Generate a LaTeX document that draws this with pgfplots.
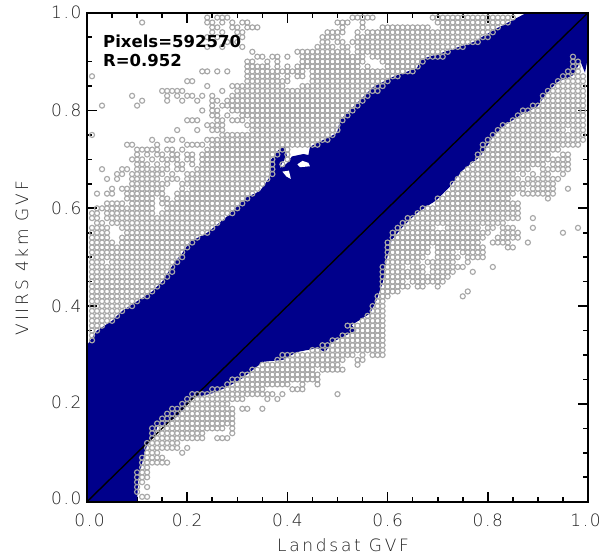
\documentclass[border=0pt]{standalone}
\usepackage{pgfplots}
\pgfplotsset{compat=1.18}
\usepackage{fontspec}
\setmainfont[LetterSpace=10]{DejaVu Sans ExtraLight}
\newfontfamily\labf[LetterSpace=16]{DejaVu Sans ExtraLight}
\newfontfamily\boldf[LetterSpace=0]{DejaVu Sans Bold}
\definecolor{bl}{RGB}{0,0,139}
\definecolor{gc}{RGB}{168,168,168}
\definecolor{lab}{RGB}{30,30,30}
\pgfplotsset{gm/.style={only marks,mark=o,mark size=2.55pt,color=gc,mark options={line width=1.15pt},forget plot}}
\newcommand\Row[2]{\gdef\pts{}\foreach \x in {#2}{\xdef\pts{\pts (0.\x,#1)}}\edef\tmp{\noexpand\addplot[gm] coordinates {\pts};}\tmp}
\begin{document}
\begin{tikzpicture}
\useasboundingbox (-87pt,-55.3pt) rectangle (518pt,501.7pt);
\begin{axis}[at={(0pt,0pt)},anchor=south west,scale only axis,width=501pt,height=489pt,
xmin=0,xmax=1,ymin=0,ymax=1,
xtick={0,0.2,0.4,0.6,0.8,1},ytick={0,0.2,0.4,0.6,0.8,1},
xticklabels={\hspace*{5pt}0.0,0.2,0.4,0.6,0.8,1.0\hspace*{5pt}},
yticklabels={\raisebox{7pt}{0.0},\raisebox{3pt}{0.2},0.4,0.6,0.8,\raisebox{-5pt}{1.0}},
minor tick num=3,tick align=inside,major tick length=10pt,minor tick length=5pt,
tick style={line width=1.6pt,black},
every tick label/.append style={font=\fontsize{17}{19}\selectfont,text=lab},
xticklabel style={yshift=-9pt},
yticklabel style={xshift=-2pt},
/pgf/number format/assume math mode=true,
axis line style={line width=2pt},
xlabel={Landsat GVF},ylabel={VIIRS 4km GVF},
every axis x label/.style={at={(axis description cs:0.511,-0.0885)},anchor=center,font=\labf\fontsize{17}{19}\selectfont,text=lab},
every axis y label/.style={at={(axis description cs:-0.13,0.498)},anchor=center,rotate=90,font=\labf\fontsize{17}{19}\selectfont,text=lab},
]
% upper cloud
\Row{0.99}{24,26,27,28,53,54,55,56,57,69,70,71,72,73,74,75,76,77,78,79,80,81,82,83,84,85}
\Row{0.98}{11,24,25,27,29,31,32,50,51,52,55,70,71,72,73,74,75,76,77,78,79,80,81,82,83,84}
\Row{0.97}{25,26,29,30,32,33,34,51,55,59,60,61,62,63,64,65,66,67,68,71,72,73,74,75,76,77,78,79,80,81,82}
\Row{0.96}{25,27,30,31,48,49,50,51,54,56,57,58,59,60,61,62,63,64,65,66,67,68,69,70,71,72,73,74,75,76,77,78,79,80,81}
\Row{0.95}{24,26,31,47,48,49,50,54,55,56,57,58,59,60,61,62,63,64,65,66,67,68,69,70,71,72,73,74,75,76,77,78,79,80}
\Row{0.94}{28,30,47,48,50,51,53,54,55,56,57,58,59,60,61,62,63,64,65,66,67,68,69,70,71,72,73,74,75,76,77,78}
\Row{0.93}{24,27,31,46,47,48,49,51,52,54,55,56,57,58,59,60,61,62,63,64,65,66,67,68,69,70,71,72,73,74,75}
\Row{0.92}{33,42,43,44,45,46,47,48,49,50,51,52,54,55,56,57,58,59,60,61,62,63,64,65,66,67,68,69,70,71,72}
\Row{0.91}{34,35,37,38,40,43,44,45,46,47,48,49,50,51,52,53,54,55,57,58,59,60,61,62,63,64,65,66,67,68,69,70,71}
\Row{0.90}{32,33,36,38,43,44,45,46,47,48,49,50,51,52,53,54,55,59,60,61,62,63,64,65,66,67}
\Row{0.89}{32,33,34,35,36,38,40,42,43,44,45,46,47,48,49,50,51,52,53,54,56,60,61,62,63,64,65,66}
\Row{0.88}{23,24,26,28,32,33,34,35,36,37,38,39,40,41,42,43,45,46,47,48,49,50,51,52,53,54,55,56,57,58,59,60,61,62,63,64,65}
\Row{0.87}{01,32,33,34,35,36,37,38,40,42,43,45,46,47,48,49,50,51,52,53,54,55,56,57,58,59,60,61,62}
\Row{0.86}{20,21,32,33,34,35,36,37,38,39,40,45,46,47,48,49,50,51,52,53,54,55,56,57,58,59,60}
\Row{0.85}{24,29,30,31,32,33,34,35,36,37,38,39,43,44,45,46,47,48,49,50,51,52,53,54,55,56,57,58,59}
\Row{0.84}{15,16,17,18,19,27,30,31,32,33,34,35,36,37,38,39,40,41,42,43,44,45,46,47,48,49,50,51,52,53,54,55,56,57,58}
\Row{0.83}{09,16,18,20,21,23,25,29,30,31,32,33,34,35,36,37,38,39,40,41,42,43,44,45,46,47,48,49,50,51,52,53,54,55,56}
\Row{0.82}{11,16,19,22,25,26,28,29,30,31,32,33,34,35,36,37,38,39,40,41,42,43,44,45,46,47,48,49,50,51,52,53,54,55}
\Row{0.81}{03,10,25,27,28,29,30,31,32,33,34,35,36,37,38,39,40,41,42,43,44,45,46,47,48,49,50,51,52,53,54}
\Row{0.80}{23,25,26,29,30,31,32,33,34,35,36,37,38,39,40,41,42,43,44,45,46,47,48,49,50,51,52,53}
\Row{0.79}{25,26,28,31,32,33,34,35,36,37,38,39,40,41,42,43,44,45,46,47,48,49,50,51,52}
\Row{0.78}{20,21,22,26,27,29,30,31,33,34,35,36,37,38,39,40,41,42,43,44,45,46,47,48,49,50,51}
\Row{0.77}{24,25,26,27,32,33,34,35,36,37,38,39,40,41,42,43,44,45,46,47,48,49,50}
\Row{0.76}{18,22,25,26,27,33,34,35,36,37,38,39,40,41,42,43,44,45,46,47,48,49,50}
\Row{0.75}{01,27,28,29,30,31,32,33,34,35,36,37,38,39,40,41,42,43,44,45,46,47,48,49}
\Row{0.74}{13,16,17,19,24,25,26,27,28,29,30,31,32,33,34,35,36,37,38,39,40,41,42,43,44,45,46,47,48}
\Row{0.73}{08,09,14,20,21,22,23,25,26,27,28,29,30,31,32,33,34,35,36,37,38,39,40,41,42,43,44,45,46}
\Row{0.72}{10,11,12,13,14,16,17,19,24,25,26,27,28,29,30,31,32,33,34,35,36,37,38,39,40}
\Row{0.71}{10,12,14,15,17,18,20,21,23,24,25,26,27,28,29,30,31,32,33,34,35,36,37,38,40}
\Row{0.70}{09,10,11,13,15,16,17,18,20,21,23,24,25,26,27,28,29,30,31,32,33,34,35,36,37,40}
\Row{0.69}{10,11,12,14,16,18,19,21,23,24,25,26,27,28,29,30,31,32,33,34,35,36,37,39}
\Row{0.68}{03,07,08,10,11,12,13,14,15,16,18,19,22,23,24,25,26,27,28,29,30,31,32,33,34,35,36,37}
\Row{0.67}{06,07,09,10,11,12,13,14,15,17,20,21,22,23,24,25,26,27,28,29,30,31,32,33,34,35,36,37}
\Row{0.66}{04,06,09,10,11,12,13,14,16,17,18,20,21,22,23,24,25,26,27,28,29,30,31,32,33,34,35,36}
\Row{0.65}{09,10,11,12,13,14,15,16,19,20,21,22,23,24,25,26,27,28,29,30,31,32,33,34,35}
\Row{0.64}{05,07,08,09,10,11,12,13,14,15,19,21,22,23,24,25,26,27,28,29,30,31,32,33,34}
\Row{0.63}{02,04,05,08,09,10,11,12,13,14,15,18,19,20,21,22,23,24,25,26,27,28,29,30,31,32,33}
\Row{0.62}{08,09,10,11,12,13,15,16,18,19,20,21,22,23,24,25,26,27,28,29,30,31,32}
\Row{0.61}{04,05,06,07,09,10,11,12,13,15,16,17,18,19,20,21,22,23,24,25,26,27,28,29,30,31}
\Row{0.60}{02,03,04,05,06,07,08,09,10,11,12,13,16,17,18,19,20,21,22,23,24,25,26,27,28,29,30}
\Row{0.59}{01,02,04,05,06,07,08,09,10,11,12,13,15,16,17,18,19,20,21,22,23,24,25,26,27,28,29}
\Row{0.58}{01,02,04,05,06,07,08,09,10,11,12,13,14,15,16,17,18,19,20,21,22,23,24,25,26,27}
\Row{0.57}{02,03,05,06,07,08,09,10,11,12,13,14,15,16,17,18,19,20,21,22,23,24,25,26}
\Row{0.56}{01,02,03,04,07,08,09,10,11,12,13,14,15,16,17,18,19,20,21,22,23,24,25}
\Row{0.55}{01,02,03,04,08,09,10,11,12,13,14,15,16,17,18,19,20,21,22,23,24}
\Row{0.54}{01,02,03,04,07,08,09,10,11,12,13,14,15,16,17,18,19,20,21,22}
\Row{0.53}{01,02,03,04,05,07,08,09,10,11,12,13,14,15,16,17,18,19,20,21}
\Row{0.52}{01,02,03,04,05,06,07,08,09,10,11,12,13,14,15,16,17,18,19,20}
\Row{0.51}{01,02,03,04,05,06,07,08,09,10,11,12,13,14,15,16,17,18,19}
\Row{0.50}{01,02,03,04,05,06,07,08,09,10,11,12,13,14,15,16,17,18,19}
\Row{0.49}{01,02,03,05,06,07,08,09,10,11,12,13,14,15,16,17,18}
\Row{0.48}{01,02,03,04,05,06,07,08,09,10,11,12,13,14,15,16,17}
\Row{0.47}{01,02,03,04,05,06,07,08,09,10,11,12,13,14,15,16,17}
\Row{0.46}{01,02,03,04,05,06,07,08,09,10,11,12,13,14,15,16}
\Row{0.45}{01,02,03,04,05,06,07,08,09,10,11,12,13,14,15}
\Row{0.44}{01,02,03,04,05,06,07,08,09,10,11,12,13,14}
\Row{0.43}{01,02,03,04,05,06,07,08,09,10,11,12,13}
\Row{0.42}{01,02,03,04,05,06,07,08,09,10,11,12}
\Row{0.41}{01,02,03,04,05,06,07,08,09,10}
\Row{0.40}{01,02,03,04,05,06,07,08,09}
\Row{0.39}{01,02,03,04,05,06,07}
\Row{0.38}{01,02,03,04,05,06}
\Row{0.37}{01,02,03,04,05}
\Row{0.36}{01,02,03}
\Row{0.35}{01,02}
\Row{0.34}{01}
\Row{0.33}{01}
% lower cloud
\Row{0.01}{11,12}
\Row{0.02}{10}
\Row{0.03}{10,12}
\Row{0.04}{10,11}
\Row{0.05}{10,11,12}
\Row{0.06}{10,11,12}
\Row{0.07}{11,12}
\Row{0.08}{11,12,13,14,15,16}
\Row{0.09}{11,12,13,14,15}
\Row{0.10}{12,13,14,19}
\Row{0.11}{12,13,14,15,16,17,18,20}
\Row{0.12}{12,13,14,15,16,17,18}
\Row{0.13}{13,14,15,16,17,18,19,20,21,22,23,26,27,28}
\Row{0.14}{13,14,15,16,17,18,19,20,21,22,23,29}
\Row{0.15}{13,14,15,16,17,18,19,20,21,22,23,24,25,26,27,29}
\Row{0.16}{14,15,16,17,18,19,20,21,22,23,24,25,26,27,28,29}
\Row{0.17}{15,16,17,18,19,20,21,22,23,24,25,26,27,28,29}
\Row{0.18}{16,17,18,19,20,21,22,23,24,25,26,27,28,29}
\Row{0.19}{17,18,19,20,21,22,23,24,25,26,27,28,29,31,32,35}
\Row{0.20}{19,20,21,22,23,24,25,26,27,28}
\Row{0.21}{20,21,22,23,24,25,26,27,28,29,30,31,36,38}
\Row{0.22}{21,22,23,24,25,26,27,28,29,30,31,32,33,34,35,36,37,39,50}
\Row{0.23}{25,26,27,28,29,30,31,32,33,34,35,41,42,43}
\Row{0.24}{28,29,30,31,32,33,34,35,36,37,38,39,40,43,46}
\Row{0.25}{29,30,31,32,33,34,35,36,37,38,39,40,41,42,43,44,45,46}
\Row{0.26}{31,32,33,34,35,36,37,38,39,40,41,42,43,44,45,46}
\Row{0.27}{33,34,35,36,37,38,39,40,41,42,43,44,45,47,48,49,50,51}
\Row{0.28}{35,36,37,38,39,40,41,42,43,44,45,46,47,48,49,50,54}
\Row{0.29}{38,39,40,41,42,43,44,45,46,47,48,49,50,51,54,55}
\Row{0.30}{39,40,41,42,43,44,45,46,47,48,49,50,51,52,53,55,57,58,59}
\Row{0.31}{45,46,47,48,49,50,51,52,53,54,55,56,57,58,59}
\Row{0.32}{47,48,49,50,51,52,53,54,55,56,57,58,59}
\Row{0.33}{49,50,51,52,53,54,55,56,57,58,59}
\Row{0.34}{51,52,53,54,55,56,57,58,59}
\Row{0.35}{53,54,55,56,57,58,59}
\Row{0.36}{52,53,54,55,56,57,58,59}
\Row{0.37}{55,56,57,58,59}
\Row{0.38}{56,57,58,59}
\Row{0.39}{57,58,59}
\Row{0.40}{57,58,59}
\Row{0.41}{58,59}
\Row{0.42}{58,59,60,75}
\Row{0.43}{59,60,61,62,76}
\Row{0.44}{59,60,61,62,63,64,66,67,70}
\Row{0.45}{59,60,61,62,63,65,66,67,68,69,70,71}
\Row{0.46}{59,60,61,62,63,64,65,66,67,68,69,70,71,72}
\Row{0.47}{59,60,61,62,63,64,65,66,67,69,70,71,72,73,77}
\Row{0.48}{59,60,61,62,63,65,66,67,69,70,71,72,73,74,75,81}
\Row{0.49}{60,61,62,63,64,65,66,68,69,70,71,72,73,76}
\Row{0.50}{60,61,62,63,64,65,66,67,70,71,72,73,74,76,77,78,79}
\Row{0.51}{60,61,62,63,64,65,66,67,68,70,71,72,73,75,76,77,78,79}
\Row{0.52}{60,61,62,63,64,65,66,67,68,70,71,72,73,74,75,76,77,78,79,84,85}
\Row{0.53}{60,61,62,63,64,65,66,67,68,69,70,71,72,73,74,75,76,77,78,81,82,83,84,88}
\Row{0.54}{61,62,63,64,65,66,67,68,69,70,71,72,73,74,75,76,77,78,79,82,83,84,85,86}
\Row{0.55}{61,62,63,64,65,66,67,68,69,70,71,72,73,74,75,76,77,78,79,80,83,84,85,86,95}
\Row{0.56}{62,63,64,65,66,67,68,69,72,73,74,75,76,77,78,80,81,83,84,85,89,98}
\Row{0.57}{63,64,65,66,67,68,69,70,71,72,73,74,75,76,77,78,79,80,81,82,83}
\Row{0.58}{64,65,66,67,68,69,70,71,72,73,74,75,76,77,78,79,80,81,82,83,84,85,86,89}
\Row{0.59}{66,67,68,69,70,71,72,73,74,75,76,77,78,79,80,81,82,83,84,85,86}
\Row{0.60}{67,68,69,70,71,72,73,74,75,76,77,78,79,80,81,82,83,84,85,86}
\Row{0.61}{70,71,72,73,74,75,76,77,78,79,80,81,82,83,84,85,86}
\Row{0.62}{70,71,72,73,74,75,76,77,78,79,80,81,82,83,84,92}
\Row{0.63}{72,73,74,75,76,77,78,79,80,81,82,83,84,85,87,88,89,90,91,92,93}
\Row{0.64}{73,74,75,76,77,78,79,80,81,82,83,84,85,86,87,89,90,91,92,93,96}
\Row{0.65}{73,74,75,76,77,78,79,80,81,82,83,84,85,86,87,88,89,90,91,92,93}
\Row{0.66}{74,75,76,77,78,79,80,81,82,83,84,85,86,88,89,90,91,92,93,94}
\Row{0.67}{75,76,77,78,79,80,81,82,83,84,85,87,89,91,92,95}
\Row{0.68}{76,77,78,79,80,81,82,83,84,85,86,87,88,91,92,93,94,95,96}
\Row{0.69}{77,78,79,80,81,82,83,84,85,86,87,88,89,90,91,93,94,95,96}
\Row{0.70}{78,79,80,81,82,83,84,85,86,87,88,89,90,91,92,93,94,95,96}
\Row{0.71}{78,79,80,81,82,83,84,85,86,87,88,89,90,91,92,95,96}
\Row{0.72}{79,80,81,82,83,84,85,86,87,88,89,90,91,92,93,94}
\Row{0.73}{79,80,81,82,83,84,85,86,87,88,89,90,91,92,93,94,95,96,97,98}
\Row{0.74}{80,81,82,83,84,85,86,87,88,89,90,91,92,93,94,95,96,97,98,99}
\Row{0.75}{81,82,83,84,85,86,87,88,89,90,91,92,93,94,95,96,97,98,99}
\Row{0.76}{82,83,84,85,86,87,88,89,90,91,92,93,94,95,97,98,99}
\Row{0.77}{83,84,85,86,87,88,89,90,91,92,93,94,95,96,97,98,99}
\Row{0.78}{85,86,87,88,89,90,91,92,93,94,95,96,97,98,99}
\Row{0.79}{86,87,88,89,90,91,92,93,94,95,96,97,98,99}
\Row{0.80}{87,88,89,90,91,92,93,94,95,96,97,98,99}
\Row{0.81}{89,90,91,92,93,94,95,96,97,98,99}
\Row{0.82}{91,92,93,94,95,96,97,98,99}
\Row{0.83}{91,92,93,94,95,96,97,98,99}
\Row{0.84}{92,93,94,95,96,97,98,99}
\Row{0.85}{93,94,95,96,97,98,99}
\Row{0.86}{94,95,96,97,98,99}
\Row{0.87}{95,96,97,98,99}
\Row{0.88}{96,97,98}
\Row{0.89}{97,98}
\Row{0.90}{97,98}
\Row{0.91}{97}
% blue mass
\addplot[fill=bl,draw=none,forget plot] coordinates {
(0,0)(0,0.32)(0.02,0.35)(0.05,0.37)(0.07,0.39)(0.10,0.41)(0.13,0.43)(0.15,0.45)(0.175,0.49)(0.19,0.508)
(0.205,0.531)(0.24,0.55)(0.278,0.582)(0.319,0.623)(0.345,0.635)(0.365,0.664)(0.367,0.699)(0.382,0.719)(0.395,0.727)
(0.399,0.706)(0.389,0.692)(0.385,0.682)(0.399,0.692)(0.409,0.706)(0.432,0.711)(0.442,0.709)(0.445,0.726)
(0.499,0.754)(0.505,0.78)(0.531,0.807)(0.571,0.848)(0.611,0.869)(0.659,0.887)(0.665,0.904)(0.705,0.917)
(0.771,0.94)(0.818,0.968)(0.878,1)(1,1)(1,0.91)(0.994,0.877)(0.985,0.90)(0.97,0.872)(0.955,0.865)(0.94,0.859)
(0.918,0.836)(0.898,0.807)(0.864,0.79)(0.83,0.767)(0.81,0.745)(0.784,0.705)(0.75,0.678)(0.724,0.644)
(0.698,0.617)(0.658,0.59)(0.63,0.562)(0.608,0.535)(0.598,0.494)(0.59,0.447)(0.578,0.412)(0.565,0.385)
(0.528,0.361)(0.538,0.351)(0.491,0.327)(0.475,0.306)(0.459,0.314)(0.419,0.306)(0.391,0.29)(0.351,0.286)
(0.311,0.253)(0.279,0.234)(0.251,0.222)(0.212,0.212)(0.179,0.173)(0.152,0.157)(0.14,0.153)(0.136,0.136)
(0.12,0.116)(0.11,0.079)(0.102,0.044)(0.1,0)} --cycle;
\addplot[fill=white,draw=none,forget plot] coordinates {(0.42,0.69)(0.43,0.697)(0.442,0.693)(0.445,0.686)(0.425,0.684)} --cycle;
\addplot[fill=white,draw=none,forget plot] coordinates {(0.39,0.675)(0.403,0.677)(0.407,0.66)(0.398,0.665)} --cycle;
\addplot[black,line width=1.4pt,forget plot] coordinates {(0,0)(1,1)};
\end{axis}
\draw[line width=2pt] (0,0) rectangle (501pt,489pt);
\node[anchor=west,inner sep=0pt,font=\boldf\fontsize{16.5}{18}\selectfont] at (16pt,460pt) {Pixels=592570};
\node[anchor=west,inner sep=0pt,font=\boldf\fontsize{16.5}{18}\selectfont] at (16pt,441pt) {R=0.952};
\end{tikzpicture}
\end{document}
